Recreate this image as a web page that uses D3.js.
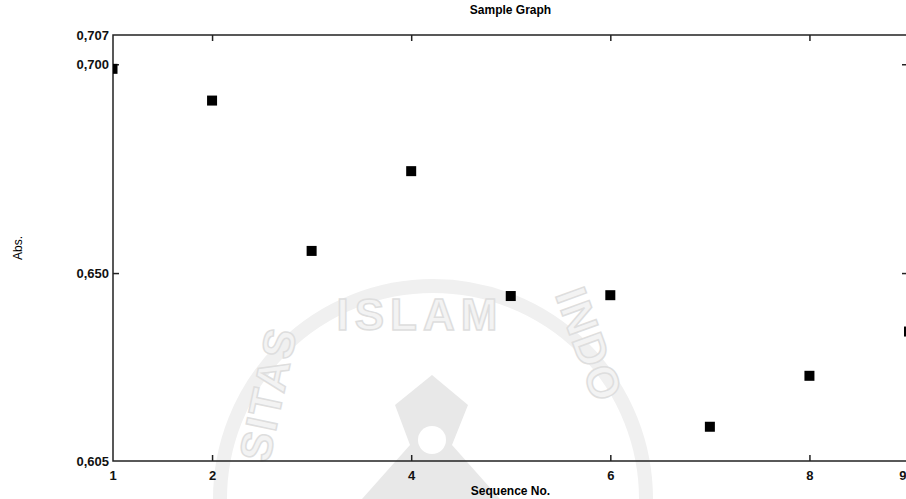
<!DOCTYPE html>
<html>
<head>
<meta charset="utf-8">
<script src="https://cdn.jsdelivr.net/npm/d3@7"></script>
<style>
  body { margin: 0; background: #fff; }
  svg { display: block; font-family: "Liberation Sans", Arial, sans-serif; }
  .tick text { font-size: 13px; font-weight: bold; fill: #111; }
  .tick line { stroke: #222; stroke-width: 1.5; }
  .wm-text { font-size: 44px; font-weight: bold; fill: #f3f3f3; stroke: #dedede; stroke-width: 1.5; }
</style>
</head>
<body>
<svg id="chart" width="906" height="499"></svg>
<script>
// data
const seqNo = [1, 2, 3, 4, 5, 6, 7, 8, 9];
const absValues = [0.6989, 0.6913, 0.6553, 0.6744, 0.6445, 0.6447, 0.6132, 0.6254, 0.6360];
const xTickValues = [1, 2, 4, 6, 8, 9];
const yTickValues = [0.605, 0.650, 0.700, 0.707];
const titleText = "Sample Graph";
const xLabel = "Sequence No.";
const yLabel = "Abs.";

const svg = d3.select("#chart");
const margin = { left: 113, top: 35, right: 908, bottom: 461 };

const x = d3.scaleLinear().domain([1, 9]).range([112.5, 909]);
const y = d3.scaleLinear().domain([0.605, 0.707]).range([margin.bottom, margin.top]);
const fmt = d => d3.format(".3f")(d).replace(".", ",");

// faint watermark of the scanned page
const wm = svg.append("g").attr("class", "watermark");
wm.append("path")
    .attr("d", "M 220 499 A 213 213 0 1 1 646 499")
    .attr("fill", "none")
    .attr("stroke", "#f0f0f0")
    .attr("stroke-width", 14);
wm.append("text")
    .attr("class", "wm-text")
    .attr("x", 420)
    .attr("y", 330)
    .attr("text-anchor", "middle")
    .style("letter-spacing", "6px")
    .text("ISLAM");
wm.append("text")
    .attr("class", "wm-text")
    .attr("transform", "translate(283, 397) rotate(-78)")
    .attr("text-anchor", "middle")
    .style("letter-spacing", "2px")
    .text("SITAS");
wm.append("text")
    .attr("class", "wm-text")
    .attr("transform", "translate(575, 350) rotate(70)")
    .attr("text-anchor", "middle")
    .style("letter-spacing", "2px")
    .text("INDO");
wm.append("path")
    .attr("d", "M 432 375 L 468 405 L 452 445 L 500 499 L 362 499 L 410 445 L 395 405 Z")
    .attr("fill", "#e8e8e8");
wm.append("circle")
    .attr("cx", 432)
    .attr("cy", 440)
    .attr("r", 14)
    .attr("fill", "#fff");

// title and axis labels
svg.append("text")
    .attr("x", (margin.left + margin.right) / 2)
    .attr("y", 14)
    .attr("text-anchor", "middle")
    .style("font-size", "12px")
    .style("font-weight", "bold")
    .text(titleText);

svg.append("text")
    .attr("x", (margin.left + margin.right) / 2)
    .attr("y", 495)
    .attr("text-anchor", "middle")
    .style("font-size", "12px")
    .style("font-weight", "bold")
    .text(xLabel);

svg.append("text")
    .attr("transform", "translate(22, 248) rotate(-90)")
    .attr("text-anchor", "middle")
    .style("font-size", "12px")
    .text(yLabel);

// axes, ticks pointing inward
const bottomAxis = svg.append("g")
    .attr("transform", `translate(0, ${margin.bottom})`)
    .call(d3.axisBottom(x).tickValues(xTickValues).tickSize(-6).tickPadding(10).tickFormat(d3.format("d")));
bottomAxis.selectAll("line").filter(d => d === 1 || d === 9).remove();
bottomAxis.selectAll("text").filter(d => d === 9).attr("text-anchor", "end").attr("dx", -3);

svg.append("g")
    .attr("transform", `translate(0, ${margin.top})`)
    .call(d3.axisTop(x).tickValues([2, 4, 6, 8]).tickSize(-6).tickFormat(""));

const leftAxis = svg.append("g")
    .attr("transform", `translate(${margin.left}, 0)`)
    .call(d3.axisLeft(y).tickValues(yTickValues).tickSize(-6).tickPadding(4).tickFormat(fmt));
leftAxis.selectAll("line").filter(d => d === 0.605 || d === 0.707).remove();

svg.append("g")
    .attr("transform", `translate(${margin.right}, 0)`)
    .call(d3.axisRight(y).tickValues([0.650, 0.700]).tickSize(-6).tickFormat(""));

svg.selectAll(".domain").remove();

// plot frame
svg.append("rect")
    .attr("x", margin.left)
    .attr("y", margin.top)
    .attr("width", margin.right - margin.left)
    .attr("height", margin.bottom - margin.top)
    .attr("fill", "none")
    .attr("stroke", "#222")
    .attr("stroke-width", 1.5);

// points, clipped to the plot area
svg.append("clipPath")
    .attr("id", "plotClip")
    .append("rect")
    .attr("x", margin.left)
    .attr("y", margin.top)
    .attr("width", margin.right - margin.left)
    .attr("height", margin.bottom - margin.top);

svg.append("g")
    .attr("clip-path", "url(#plotClip)")
    .selectAll("rect")
    .data(seqNo)
    .join("rect")
    .attr("x", (d, i) => x(d) - 5)
    .attr("y", (d, i) => y(absValues[i]) - 5)
    .attr("width", 10)
    .attr("height", 10)
    .attr("fill", "#000");
</script>
</body>
</html>
